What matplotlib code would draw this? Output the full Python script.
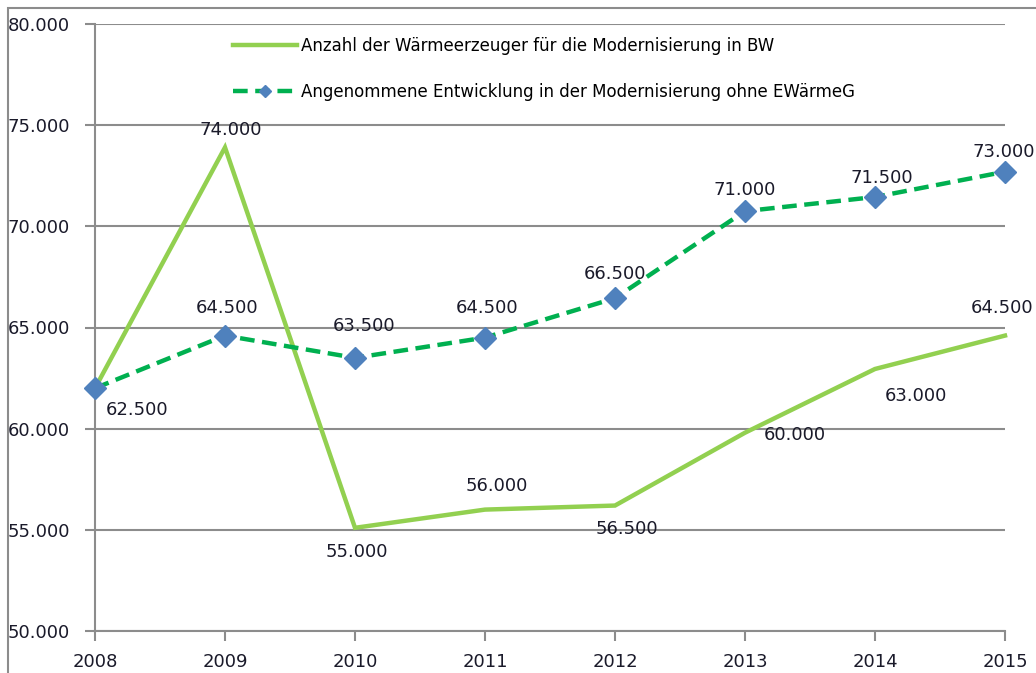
import numpy as np
import matplotlib.pyplot as plt
from matplotlib.patches import Rectangle

plt.close('all')

jahre = [2008, 2009, 2010, 2011, 2012, 2013, 2014, 2015]

# Werte
anzahl = [62000, 73900, 55100, 56000, 56200, 59800, 62950, 64600]
angenommen = [62000, 64600, 63500, 64500, 66450, 70750, 71450, 72700]

# Beschriftungen (wie in der Vorlage)
lab_anzahl = ['', '74.000', '55.000', '56.000', '56.500', '60.000', '63.000', '64.500']
lab_angen = ['62.500', '64.500', '63.500', '64.500', '66.500', '71.000', '71.500', '73.000']

off_anzahl = [(0, 0), (6, 17), (2, -24), (12, 24), (12, -23), (50, -2), (41, -27), (-3, 28)]
off_angen = [(42, -22), (2, 28), (9, 32), (2, 30), (0, 24), (0, 21), (7, 19), (-1, 20)]

fig = plt.figure(figsize=(10.36, 6.73), dpi=100)
ax = fig.add_axes([95/1036, 1-631/673, 910/1036, 607/673])

fig.patches.append(Rectangle((8/1036, -0.1), 1.2, 1-8/673+0.1, transform=fig.transFigure,
                             fill=False, edgecolor='#8c8c8c', linewidth=1.5))

ax.plot(jahre, anzahl, color='#92D050', linewidth=3.2, solid_joinstyle='miter',
        label='Anzahl der Wärmeerzeuger für die Modernisierung in BW', clip_on=False, zorder=3)
ax.plot(jahre, angenommen, color='#00B050', linewidth=3.2, dashes=(3.3, 1.7),
        marker='D', markersize=11, markerfacecolor='#4F81BD', markeredgecolor='#4F81BD',
        label='Angenommene Entwicklung in der Modernisierung ohne EWärmeG', clip_on=False, zorder=4)

for x, y, t, o in zip(jahre, anzahl, lab_anzahl, off_anzahl):
    if t:
        ax.annotate(t, (x, y), xytext=o, textcoords='offset pixels', ha='center', va='center',
                    fontsize=13, color='#1a1a2a')
for x, y, t, o in zip(jahre, angenommen, lab_angen, off_angen):
    ax.annotate(t, (x, y), xytext=o, textcoords='offset pixels', ha='center', va='center',
                fontsize=13, color='#1a1a2a')

ax.set_xlim(2008, 2015)
ax.set_ylim(50000, 80000)
ax.set_xticks(jahre)
ax.set_yticks(np.arange(50000, 80001, 5000))
ax.set_yticklabels([f'{v//1000}.000' for v in range(50000, 80001, 5000)])
ax.yaxis.grid(True, color='#8c8c8c', linewidth=1.5)
ax.set_axisbelow(True)
for s in ['top', 'right']:
    ax.spines[s].set_visible(False)
for s in ['left', 'bottom']:
    ax.spines[s].set_color('#8c8c8c')
    ax.spines[s].set_linewidth(1.5)
ax.tick_params(axis='both', colors='#8c8c8c', length=7, width=1.5, labelsize=13, labelcolor='#1a1a2a')
ax.tick_params(axis='y', pad=11)
ax.tick_params(axis='x', pad=9)

leg = ax.legend(loc='upper left', bbox_to_anchor=(0.1445, 0.99), borderaxespad=0, frameon=False,
                fontsize=12, handlelength=3.85, handletextpad=0.2, labelspacing=1.7)
leg.legend_handles[1].set_markersize(6)

plt.savefig('out.png', dpi=100)
